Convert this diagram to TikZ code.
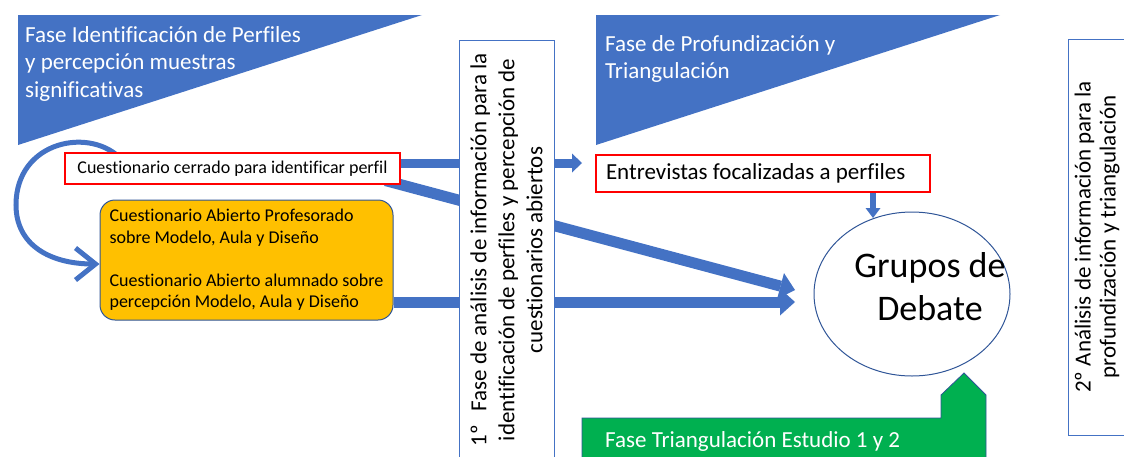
\documentclass[tikz,border=0pt]{standalone}
\usepackage{fontspec}
\setmainfont{Carlito}[Ligatures=NoCommon]
\definecolor{ppblue}{RGB}{68,114,196}
\definecolor{ppdark}{RGB}{47,85,151}
\definecolor{ppgreen}{RGB}{0,176,80}
\definecolor{pporange}{RGB}{255,192,0}
\definecolor{ppred}{RGB}{255,0,0}
\usetikzlibrary{arrows.meta,positioning,shapes.geometric,calc,backgrounds}

\begin{document}
\begin{tikzpicture}[x=1pt, y=-1pt,
    redbox/.style={rectangle, draw=ppred, line width=1.2pt, fill=white, align=flush left,
      inner xsep=10pt, inner ysep=0pt},
    vbox/.style={rectangle, draw=ppblue, line width=1pt, fill=white, rotate=90},
    phase/.style={font=\fontsize{23}{27.5}\selectfont, text=white, align=left, inner sep=0pt},
    blk/.style={-{Triangle[length=15pt, width=27pt, line width=0pt]}, line width=11pt, ppblue},
    curv/.style={-{Straight Barb[length=20pt, width=32pt]}, line width=5pt, ppblue}
  ]
    \useasboundingbox (0,0) rectangle (1124,456);
    \clip (0,0) rectangle (1124,456);

    % Phase banners
    \fill[ppblue] (18,15) -- (422,15) -- (18,145) -- cycle;
    \fill[ppblue] (596,15) -- (1000,15) -- (596,145) -- cycle;
    \node[phase, anchor=north west] (f1) at (25,26) {Fase Identificación de Perfiles\\y percepción muestras\\significativas};
    \node[phase, anchor=north west] (f2) at (605,35) {Fase de Profundización y\\Triangulación};

    \filldraw[fill=ppgreen, draw=ppdark, line width=0.8pt]
      (582,470) -- (582,418) -- (941,418) -- (941,395) -- (964,373) -- (986,395) -- (986,470) -- cycle;
    \node[phase, anchor=base west] (f3) at (605,447) {Fase Triangulación Estudio 1 y 2};

    % Questionnaires
    \node[redbox, minimum width=335pt, minimum height=31pt, font=\fontsize{18}{21.5}\selectfont]
      (cq) at (232.5,168.5) {Cuestionario cerrado para identificar perfil};
    \node[rectangle, rounded corners=15pt, draw=ppdark, line width=1pt, fill=pporange,
      minimum width=293pt, minimum height=120pt, align=left, font=\fontsize{18}{21.5}\selectfont]
      (ob) at (246.5,260) {Cuestionario Abierto Profesorado\\sobre Modelo, Aula y Diseño\\[21.5pt]Cuestionario Abierto alumnado sobre\\percepción Modelo, Aula y Diseño};

    \node[redbox, text width=314pt, minimum height=37pt, font=\fontsize{23}{27.5}\selectfont]
      (ent) at (763,173.5) {Entrevistas focalizadas a perfiles};

    \node[ellipse, draw=ppdark, line width=1pt, minimum width=196pt, minimum height=164pt, inner sep=0pt]
      (gd) at (912,294) {};
    \node[font=\fontsize{36}{43}\selectfont, align=center] (gdt) at ([xshift=18pt,yshift=7pt]gd.center) {Grupos de\\Debate};

    % Analysis columns
    \node[vbox, minimum width=420pt, minimum height=95pt, font=\fontsize{23}{28}\selectfont, align=center]
      (a1) at (506.5,250) {1º\hspace{0.6em}Fase de análisis de información para la\\identificación de perfiles y percepción de\\cuestionarios abiertos};
    \node[vbox, minimum width=396pt, minimum height=120pt] (a2) at (1128,237) {};
    \node[rotate=90, anchor=north, inner sep=7pt, font=\fontsize{23}{25}\selectfont, align=center]
      (a2t) at (a2.north) {2º Análisis de información para la\\profundización y triangulación};

    % Flows
    \coordinate (t0) at (582,163);
    \coordinate (t1) at (795,290);
    \coordinate (t2) at (795,302);
    \coordinate (t3) at (873,218);
    \begin{pgfonlayer}{background}
      \draw[curv] ([xshift=58pt,yshift=-8pt]cq.north west) .. controls (92,126) and (16,140) .. (16,205)
        .. controls (16,245) and (50,264) .. ([yshift=-4pt]ob.west);
      \draw[blk, line width=9pt, -{Triangle[length=10pt, width=19pt, line width=0pt]}] (cq.east |- t0) -- (t0);
      \draw[blk] ([xshift=-15pt,yshift=4pt]cq.south east) -- (t1);
      \draw[blk] (ob.east |- t2) -- (t2);
      \draw[ppblue, line width=6pt, -{Triangle[length=10pt, width=15pt, line width=0pt]}]
        ([xshift=110pt]ent.south) -- (t3);
    \end{pgfonlayer}
\end{tikzpicture}
\end{document}
